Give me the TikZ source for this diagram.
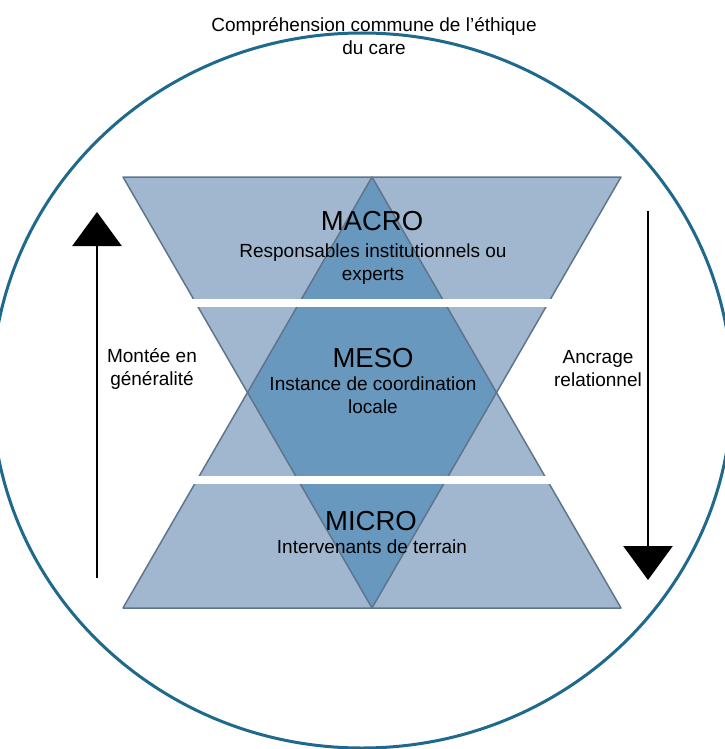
\documentclass[tikz,border=0pt]{standalone}
\usepackage{fontspec}
\setmainfont{Liberation Sans}
\usetikzlibrary{arrows.meta}
\definecolor{lightblue}{RGB}{160,183,207}
\definecolor{darkblue}{RGB}{104,152,190}
\definecolor{edgeblue}{RGB}{94,117,140}
\definecolor{ringblue}{RGB}{30,105,140}
\tikzset{
  lbl/.style={align=center,inner sep=0pt,font=\fontsize{19}{23}\selectfont},
  level/.style={inner sep=0pt,font=\fontsize{27.5}{30}\selectfont},
  bigarrow/.style={line width=2.7pt,-{Triangle[width=49pt,length=34pt]}}
}

\begin{document}
\begin{tikzpicture}[x=1pt,y=-1pt]
      \useasboundingbox (0,0) rectangle (724,749);
      \fill[lightblue] (123,177) -- (621,177) -- (372,608) -- cycle;
      \fill[lightblue] (372,177) -- (621,608) -- (123,608) -- cycle;
      \fill[darkblue] (372,177) -- (496.5,392.5) -- (372,608) -- (247.5,392.5) -- cycle;
      \draw[edgeblue,line width=1.5pt,line join=round] (123,177) -- (621,177) -- (372,608) -- cycle;
      \draw[edgeblue,line width=1.5pt,line join=round] (372,177) -- (621,608) -- (123,608) -- cycle;
      \foreach \y in {299,476} {
        \path[fill=white] (160,\y) rectangle (590,\y+8);
      }
      \draw[ringblue,line width=3pt] (362,390.5) ellipse [x radius=370pt,y radius=357.5pt];

      \node[lbl] (title) at (374,36) {Compréhension commune de l’éthique\\du care};

      \node[level] (macro) at (372,221) {MACRO};
      \node[lbl] (macrotxt) at (373,264.5) {Responsables institutionnels ou\\experts};
      \node[level] (meso) at (373,358) {MESO};
      \node[lbl] (mesotxt) at (373,395) {Instance de coordination\\locale};
      \node[level] (micro) at (371,521) {MICRO};
      \node[lbl] (microtxt) at (372,547) {Intervenants de terrain};

      \node[lbl] (montee) at (152,368.5) {Montée en\\généralité};
      \node[lbl] (ancrage) at (598,368.5) {Ancrage\\relationnel};

      \coordinate (upfoot) at (97,578);
      \coordinate (uptip) at (97,212);
      \coordinate (downfoot) at (648,211);
      \coordinate (downtip) at (648,580);
      \draw[bigarrow] (upfoot) -- (uptip);
      \draw[bigarrow] (downfoot) -- (downtip);
    \end{tikzpicture}
\end{document}
